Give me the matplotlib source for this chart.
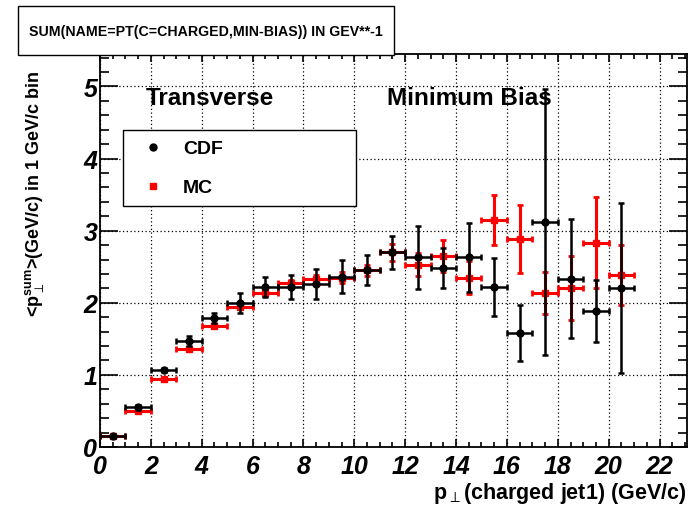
import matplotlib
matplotlib.use("Agg")
import matplotlib.pyplot as plt
import numpy as np
from matplotlib.lines import Line2D
from matplotlib.patches import Rectangle
from matplotlib.ticker import MultipleLocator

plt.rcParams['font.family'] = ['Liberation Sans', 'DejaVu Sans']
plt.rcParams['mathtext.fontset'] = 'custom'
plt.rcParams['mathtext.rm'] = 'Liberation Sans:bold'
plt.rcParams['mathtext.bf'] = 'Liberation Sans:bold'
plt.rcParams['mathtext.default'] = 'rm'
plt.rcParams['mathtext.fallback'] = 'cm'

# bin centres (1 GeV/c bins)
pt = np.arange(0.5, 21.0, 1.0)
pt_err = np.full(len(pt), 0.5)

# CDF data
cdf = [0.15, 0.55, 1.07, 1.47, 1.785, 2.00, 2.22, 2.22, 2.26, 2.36, 2.45,
       2.70, 2.63, 2.48, 2.63, 2.215, 1.58, 3.12, 2.335, 1.88, 2.20]
cdf_err = [0.02, 0.03, 0.03, 0.07, 0.07, 0.14, 0.14, 0.17, 0.21, 0.23, 0.21,
           0.23, 0.44, 0.275, 0.48, 0.40, 0.39, 1.845, 0.82, 0.43, 1.18]

# MC
mc = [0.15, 0.50, 0.94, 1.355, 1.68, 1.94, 2.14, 2.27, 2.33, 2.35, 2.45,
      2.70, 2.53, 2.65, 2.345, 3.145, 2.88, 2.13, 2.205, 2.835, 2.385]
mc_err = [0.01, 0.01, 0.02, 0.02, 0.03, 0.03, 0.05, 0.05, 0.06, 0.07, 0.08,
          0.115, 0.16, 0.22, 0.23, 0.35, 0.47, 0.29, 0.44, 0.635, 0.41]

fig = plt.figure(figsize=(6.9, 5.1), dpi=100)
ax = fig.add_axes([100/690, 1-448/510, 587/690, 393/510])

ax.errorbar(pt, mc, xerr=pt_err, yerr=mc_err, fmt='s', color='#ff0000',
            ms=4.5, elinewidth=2.2, capsize=2, capthick=2, zorder=3)
ax.errorbar(pt, cdf, xerr=pt_err, yerr=cdf_err, fmt='o', color='black',
            ms=5, elinewidth=1.8, capsize=2.5, capthick=1.8, zorder=4)

ax.set_xlim(0, 23.08)
ax.set_ylim(0, 5.45)
ax.xaxis.set_major_locator(MultipleLocator(2))
ax.xaxis.set_minor_locator(MultipleLocator(0.5))
ax.yaxis.set_major_locator(MultipleLocator(1))
ax.yaxis.set_minor_locator(MultipleLocator(0.2))
ax.grid(True, which='major', color='black', linestyle=(0, (1, 2)), linewidth=0.9)
ax.tick_params(which='both', direction='in', top=True, right=True, width=1.2)
ax.tick_params(axis='x', which='major', length=6, pad=5, labelsize=18)
ax.tick_params(axis='x', which='minor', length=3.5)
ax.tick_params(axis='y', which='major', length=13, pad=2, labelsize=18)
ax.tick_params(axis='y', which='minor', length=6.5)
for lab in ax.get_xticklabels() + ax.get_yticklabels():
    lab.set_fontweight('bold')
    lab.set_fontstyle('italic')
for s in ax.spines.values():
    s.set_linewidth(1.3)

ax.text(146/690, 1-105/510, 'Transverse', transform=fig.transFigure,
        fontsize=17.5, fontweight='bold', va='baseline')
ax.text(387/690, 1-105/510, 'Minimum Bias', transform=fig.transFigure,
        fontsize=17.5, fontweight='bold', va='baseline')

handles = [Line2D([], [], marker='o', color='black', ls='none', ms=5),
           Line2D([], [], marker='s', color='#ff0000', ls='none', ms=5)]
leg = ax.legend(handles, ['CDF', 'MC'], loc='upper left',
                bbox_to_anchor=(23/587, 317/393 - 0.01, 233/587, 0.01), mode='expand',
                prop={'size': 14, 'weight': 'bold'}, fancybox=False,
                edgecolor='black', framealpha=1, borderaxespad=0,
                borderpad=0.5, labelspacing=1.1, handlelength=2.06,
                handletextpad=0.52)
leg.get_frame().set_linewidth(1.0)
leg.set_zorder(6)

fig.text(35/690, 1-70/510, r'<p$_{\perp}^{sum}$>(GeV/c) in 1 GeV/c bin',
         rotation=90, ha='center', va='top', fontsize=13, fontweight='bold')
fig.text(686/690, 1-494/510, r'p$_{\perp}$(charged jet1) (GeV/c)',
         ha='right', va='center', fontsize=15.5, fontweight='bold')

fig.patches.append(Rectangle((18/690, 1-56/510), 376/690, 49/510,
                             transform=fig.transFigure, facecolor='white',
                             edgecolor='black', linewidth=1.0, zorder=5))
fig.text(206/690, 1-32/510, 'SUM(NAME=PT(C=CHARGED,MIN-BIAS)) IN GEV**-1',
         ha='center', va='center', fontsize=10.2, fontweight='bold', zorder=6)

fig.savefig('out.png', dpi=100)
